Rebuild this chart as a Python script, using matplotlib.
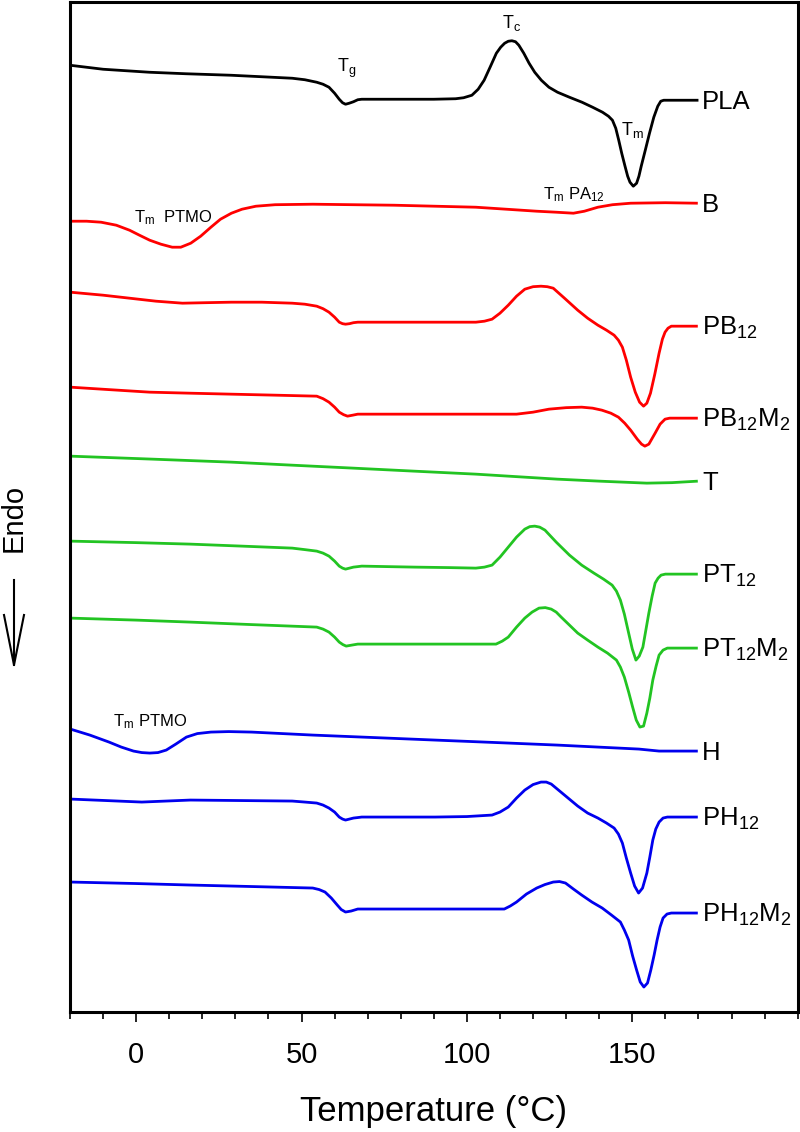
import numpy as np
import matplotlib
matplotlib.use("Agg")
import matplotlib.pyplot as plt
from matplotlib.lines import Line2D

plt.rcParams['font.family'] = ['Liberation Sans', 'DejaVu Sans']
plt.rcParams['mathtext.fontset'] = 'custom'
plt.rcParams['mathtext.rm'] = 'Liberation Sans'
plt.rcParams['mathtext.it'] = 'Liberation Sans:italic'

# DSC traces, heat flow in arbitrary units (curves already stacked)
t_pla = [-20, -10, 4, 15, 28.7, 38, 47.2, 51, 54.6, 56.5, 58.3, 60, 61.4, 62.4, 63.3, 64.4,
         65.7, 67, 68.2, 73, 78, 90, 96.6, 99, 101.5, 103.4, 105.2, 107, 108.9, 110.2, 111.4,
         112.5, 113.6, 114.7, 115.7, 117.2, 118.8, 120.5, 122.5, 124.8, 127.4, 131, 134.8,
         138, 141, 142.8, 144, 145, 145.9, 146.8, 147.8, 148.6, 149.3, 150.3, 151.3, 152,
         152.7, 154, 155.2, 156.5, 157.7, 158.6, 159.5, 162, 170]
hf_pla = [94.7, 94.3, 94.0, 93.85, 93.7, 93.55, 93.4, 93.25, 93.0, 92.8, 92.5, 91.9, 91.3,
          90.95, 90.8, 90.9, 91.05, 91.25, 91.3, 91.3, 91.3, 91.3, 91.35, 91.45, 91.7, 92.3,
          93.2, 94.5, 95.9, 96.5, 96.9, 97.1, 97.15, 97.05, 96.7, 95.9, 94.9, 94.0, 93.2,
          92.5, 92.0, 91.5, 91.0, 90.5, 90.0, 89.6, 89.2, 88.4, 87.2, 85.9, 84.6, 83.6, 83.0,
          82.6, 82.9, 83.6, 84.6, 86.3, 87.9, 89.5, 90.6, 91.1, 91.2, 91.2, 91.2]

t_b = [-19.9, -15, -10.6, -6, -2, 1, 4.1, 7.5, 10.9, 13.5, 16.5, 19.5, 22.6, 25.5, 28.8, 32,
       36.2, 42, 53.4, 78, 102.7, 121.1, 127, 132.2, 135.5, 139.6, 144, 149.5, 160, 169.8]
hf_b = [79.1, 79.1, 79.0, 78.7, 78.2, 77.7, 77.2, 76.8, 76.5, 76.5, 76.9, 77.6, 78.5, 79.3,
        79.9, 80.3, 80.6, 80.75, 80.8, 80.7, 80.5, 80.1, 80.0, 79.9, 80.1, 80.5, 80.75, 80.9,
        80.95, 80.9]

t_pb12 = [-19.9, -10, -2, 6, 14, 21, 28.8, 38, 47.2, 51, 54.6, 56.5, 58.3, 60, 61.4, 62.4,
          63.3, 64.5, 65.7, 67, 68.2, 76, 84.2, 95, 102.7, 105.3, 107.6, 110, 112.5, 115,
          117.5, 120, 122.4, 124.3, 126.1, 129.5, 133.5, 136.5, 139.6, 142.2, 144.5, 145.8,
          147, 148.2, 149.5, 150.9, 152.2, 153.4, 154.4, 155.5, 156.8, 158.1, 159.1, 159.9,
          160.8, 161.8, 169.8]
hf_pb12 = [72.0, 71.7, 71.4, 71.1, 70.9, 70.95, 71.0, 71.0, 70.9, 70.8, 70.6, 70.35, 70.0,
           69.5, 69.0, 68.85, 68.8, 68.85, 68.95, 69.0, 69.0, 69.0, 69.0, 69.0, 69.0, 69.1,
           69.3, 69.9, 70.7, 71.6, 72.3, 72.55, 72.6, 72.55, 72.4, 71.4, 70.2, 69.4, 68.7,
           68.2, 67.7, 67.2, 66.5, 65.2, 63.5, 62.0, 61.0, 60.6, 60.9, 61.9, 63.8, 65.9, 67.3,
           68.0, 68.4, 68.6, 68.6]

t_pb12m2 = [-19.9, -8, 4.1, 16, 28.8, 42, 54.6, 56.5, 58.3, 60, 61.4, 62.7, 63.9, 65.5, 67,
            78, 90.4, 103, 115, 120, 124.8, 130, 134.7, 138, 140.8, 143.5, 145.8, 147.7,
            149.5, 151.5, 152.8, 153.8, 155, 156.9, 158.4, 159.9, 161.3, 163, 169.8]
hf_pb12m2 = [62.5, 62.25, 62.0, 61.9, 61.8, 61.7, 61.6, 61.35, 61.0, 60.5, 60.0, 59.75, 59.6,
             59.7, 59.8, 59.8, 59.8, 59.8, 59.8, 60.0, 60.3, 60.45, 60.5, 60.4, 60.2, 59.9,
             59.5, 58.9, 58.2, 57.3, 56.8, 56.6, 56.8, 57.9, 58.8, 59.3, 59.4, 59.4, 59.4]

t_t = [-19.9, 5, 28.8, 47, 65.7, 84, 102.7, 112.5, 127.3, 140, 154.4, 162, 169.8]
hf_t = [55.6, 55.3, 55.0, 54.7, 54.4, 54.1, 53.8, 53.6, 53.3, 53.1, 52.9, 52.95, 53.1]

t_pt12 = [-19.9, 0, 16.4, 32, 47.2, 51, 54.6, 56.5, 58.3, 60, 61.4, 62.4, 63.3, 64.5, 65.7,
          67, 68.2, 76, 84.2, 95, 102.7, 105.3, 107.6, 110, 112.5, 115, 117.5, 119, 120.5,
          122, 123.6, 127, 131, 134.7, 138.4, 141.3, 143.9, 145.2, 146.4, 147.6, 148.9, 150,
          151.1, 152.1, 153.2, 154.1, 155, 156, 156.9, 157.8, 158.7, 160, 161.2, 169.8]
hf_pt12 = [47.1, 46.95, 46.8, 46.6, 46.4, 46.25, 46.1, 45.9, 45.6, 45.1, 44.6, 44.4, 44.3,
           44.4, 44.5, 44.55, 44.6, 44.55, 44.5, 44.45, 44.4, 44.5, 44.7, 45.5, 46.5, 47.5,
           48.3, 48.55, 48.6, 48.5, 48.2, 47.0, 45.7, 44.7, 43.9, 43.3, 42.7, 42.1, 41.2,
           39.8, 37.9, 36.3, 35.2, 35.6, 36.5, 38.2, 39.9, 41.6, 42.9, 43.4, 43.7, 43.8, 43.8,
           43.8]

t_pt12m2 = [-19.9, 0, 16.4, 35, 54.6, 56.5, 58.3, 60, 61.4, 62.5, 63.5, 65.2, 67, 76, 84.2,
            97, 108.8, 110.7, 112.5, 115, 117.5, 119.7, 121.8, 123.7, 125.5, 127, 128.5, 131,
            133.5, 136.5, 139.6, 142.5, 145.2, 146.4, 147.6, 148.9, 150.1, 151.2, 152.3,
            153.4, 154.4, 155.3, 156.2, 157.2, 158.1, 159.3, 160.6, 169.8]
hf_pt12m2 = [39.4, 39.2, 39.0, 38.75, 38.5, 38.3, 38.0, 37.5, 37.0, 36.75, 36.6, 36.7, 36.8,
             36.8, 36.8, 36.8, 36.8, 37.1, 37.5, 38.5, 39.4, 40.0, 40.4, 40.45, 40.3, 40.0,
             39.5, 38.7, 37.9, 37.2, 36.5, 35.9, 35.2, 34.5, 33.5, 32.0, 30.5, 29.2, 28.5,
             28.6, 29.9, 31.4, 33.2, 34.6, 35.7, 36.2, 36.4, 36.4]

t_h = [-19.9, -14, -8.2, -4.5, -0.8, 1.7, 4.1, 6.6, 9.1, 12, 15.2, 18.5, 22.6, 28, 34.9,
       53.4, 72, 90.4, 109, 127.3, 139.6, 152, 158.1, 169.8]
hf_h = [28.3, 27.7, 27.0, 26.5, 26.1, 25.95, 25.9, 25.95, 26.2, 26.8, 27.5, 27.85, 28.0,
        28.05, 28.0, 27.7, 27.45, 27.2, 26.95, 26.7, 26.5, 26.3, 26.1, 26.1]

t_ph12 = [-19.9, -9, 1.7, 9, 16.4, 32, 47.2, 51, 54.6, 56.5, 58.3, 60, 61.4, 62.4, 63.3,
          64.5, 65.7, 67, 68.2, 80, 90.4, 100, 107.6, 110, 112.5, 115, 117.5, 120, 122.4,
          124, 125.5, 129.5, 133.5, 136.5, 139.6, 142.2, 144.5, 145.8, 147, 148.2, 149.5,
          150.7, 151.9, 153.1, 154.4, 155.3, 156.2, 157.1, 158.1, 159.3, 160.6, 169.8]
hf_ph12 = [21.3, 21.15, 21.0, 21.1, 21.2, 21.15, 21.1, 21.0, 20.9, 20.7, 20.4, 20.0, 19.5,
           19.3, 19.2, 19.3, 19.4, 19.45, 19.5, 19.5, 19.5, 19.55, 19.7, 20.0, 20.5, 21.4,
           22.2, 22.75, 23.0, 23.0, 22.8, 21.7, 20.6, 19.9, 19.4, 18.9, 18.4, 17.8, 16.9,
           15.4, 13.9, 12.6, 11.9, 12.4, 13.9, 15.5, 17.2, 18.3, 19.0, 19.4, 19.5, 19.5]

t_ph12m2 = [-19.9, 0, 16.4, 35, 53.4, 55.3, 57.1, 59, 60.8, 62, 63.3, 65, 67, 78, 90.4, 101,
            111.3, 113.1, 115, 118, 121.1, 123.6, 126.1, 128, 129.8, 132.2, 134.7, 137.8,
            140.9, 143.7, 146.4, 147.6, 148.9, 150.1, 151.3, 152.4, 153.5, 154.6, 155.6,
            156.6, 157.5, 158.4, 159.3, 160.5, 161.8, 169.8]
hf_ph12m2 = [13.0, 12.85, 12.7, 12.55, 12.4, 12.25, 12.0, 11.4, 10.7, 10.25, 10.0, 10.1, 10.3,
             10.3, 10.3, 10.3, 10.3, 10.6, 11.0, 11.8, 12.4, 12.75, 13.0, 13.05, 12.9, 12.3,
             11.7, 11.0, 10.4, 9.7, 9.0, 8.2, 7.2, 5.6, 4.2, 3.0, 2.5, 2.9, 4.2, 5.7, 7.2, 8.5,
             9.4, 9.8, 9.9, 9.9]

names = ['PLA', 'B', r'PB$_{12}$', r'PB$_{12}$M$_2$', 'T', r'PT$_{12}$', r'PT$_{12}$M$_2$',
         'H', r'PH$_{12}$', r'PH$_{12}$M$_2$']
temps = [t_pla, t_b, t_pb12, t_pb12m2, t_t, t_pt12, t_pt12m2, t_h, t_ph12, t_ph12m2]
flows = [hf_pla, hf_b, hf_pb12, hf_pb12m2, hf_t, hf_pt12, hf_pt12m2, hf_h, hf_ph12, hf_ph12m2]
colors = ['black', '#ff0000', '#ff0000', '#ff0000', '#22c422', '#22c422', '#22c422',
          '#0000ee', '#0000ee', '#0000ee']

fig = plt.figure(figsize=(8, 11.32), dpi=100)
ax = fig.add_axes([0.0875, 0.106, 0.9096, 0.892])

for t, hf, name, c in zip(temps, flows, names, colors):
    ax.plot(t, hf, color=c, lw=2, solid_joinstyle='round', solid_capstyle='butt')
    ax.text(171.1, hf[-1] - 0.85, name, fontsize=18.5, ha='left', va='baseline')

# peak annotations
ax.text(63.7, 94.4, r'T$_\mathregular{g}$', fontsize=13, ha='center', va='center')
ax.text(113.5, 98.9, r'T$_\mathregular{c}$', fontsize=13, ha='center', va='center')
ax.text(150.0, 88.2, r'T$_\mathregular{m}$', fontsize=13, ha='center', va='center')
ax.text(-0.8, 79.5, r'T$_\mathregular{m}$  PTMO', fontsize=12, ha='left', va='center')
ax.text(123.0, 81.8, r'T$_\mathregular{m}$ PA$_{12}$', fontsize=12, ha='left', va='center')
ax.text(-7.0, 29.0, r'T$_\mathregular{m}$ PTMO', fontsize=12, ha='left', va='center')

ax.set_xlim(-20, 200)
ax.set_ylim(0, 101)
ax.set_xticks([0, 50, 100, 150])
ax.set_xticks([v for v in range(-20, 201, 10) if v % 50 != 0 or v > 150], minor=True)
ax.set_yticks([])
ax.tick_params(axis='x', which='major', direction='out', length=7, width=1.2,
               labelsize=21, pad=14)
ax.tick_params(axis='x', which='minor', direction='out', length=5, width=1.2)
for s in ax.spines.values():
    s.set_linewidth(2.2)

ax.set_xlabel('Temperature (°C)', fontsize=25)
ax.xaxis.set_label_coords(0.5, -0.099)
ax.xaxis.label.set_va('center')

# "Endo" with downward arrow on the left margin
fig.text(14 / 800, 1 - 518 / 1132, 'Endo', rotation=90, fontsize=21,
         ha='center', va='center')
x0, y_top, y_tip, y_head = 14 / 800, 1 - 580 / 1132, 1 - 665 / 1132, 1 - 615 / 1132
fig.add_artist(Line2D([x0, x0], [y_top, y_tip], color='black', lw=1.5, transform=fig.transFigure))
fig.add_artist(Line2D([4 / 800, x0, 24 / 800], [y_head, y_tip, y_head], color='black', lw=1.5,
                      transform=fig.transFigure))

fig.savefig('out.png', dpi=100)
